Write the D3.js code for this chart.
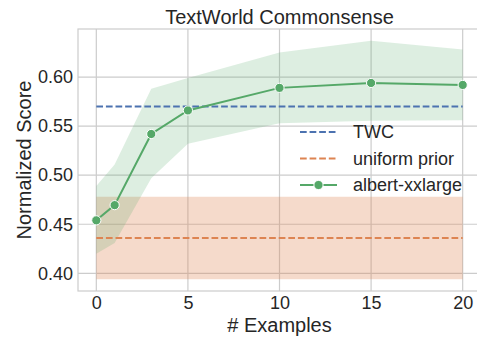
<!DOCTYPE html>
<html>
<head>
<meta charset="utf-8">
<script src="https://cdn.jsdelivr.net/npm/d3@7"></script>
<style>
  html, body { margin: 0; padding: 0; background: #ffffff; }
  svg { display: block; font-family: "Liberation Sans", Arial, sans-serif; }
</style>
</head>
<body>
<div id="chart"></div>
<script>
// Few-shot results on TextWorld Commonsense
const examples = [0, 1, 3, 5, 10, 15, 20];
const albertMean = [0.454, 0.4695, 0.542, 0.566, 0.589, 0.594, 0.592];
const albertLow = [0.420, 0.431, 0.497, 0.532, 0.553, 0.5555, 0.556];
const albertHigh = [0.489, 0.511, 0.588, 0.599, 0.625, 0.637, 0.628];
const twcScore = 0.570;
const uniformPrior = 0.436;
const uniformLow = 0.394;
const uniformHigh = 0.478;
const xTicks = [0, 5, 10, 15, 20];
const yTicks = [0.40, 0.45, 0.50, 0.55, 0.60];
const legendLabels = ["TWC", "uniform prior", "albert-xxlarge"];

const W = 477, H = 338;
const plotLeft = 78, plotRight = 481, plotTop = 29, plotBottom = 291;
const colors = { blue: "#4C72B0", orange: "#DD8452", green: "#55A868" };
const textColor = "#262626", gridColor = "#cccccc";

const svg = d3.select("#chart").append("svg")
  .attr("width", W).attr("height", H);

const x = d3.scaleLinear().domain([-1, 21]).range([plotLeft, plotRight]);
const y = d3.scaleLinear().domain([0.382, 0.649]).range([plotBottom, plotTop]);

// grid
const grid = svg.append("g");
grid.selectAll("line.v").data(xTicks).join("line")
  .attr("x1", d => x(d)).attr("x2", d => x(d))
  .attr("y1", plotTop).attr("y2", plotBottom)
  .attr("stroke", gridColor).attr("stroke-width", 1.2);
grid.selectAll("line.h").data(yTicks).join("line")
  .attr("x1", plotLeft).attr("x2", plotRight)
  .attr("y1", d => y(d)).attr("y2", d => y(d))
  .attr("stroke", gridColor).attr("stroke-width", 1.2);

// spines
svg.append("rect")
  .attr("x", plotLeft).attr("y", plotTop)
  .attr("width", plotRight - plotLeft).attr("height", plotBottom - plotTop)
  .attr("fill", "none").attr("stroke", gridColor).attr("stroke-width", 1.2);

// axes via d3
const xAxis = svg.append("g")
  .attr("transform", `translate(0,${plotBottom})`)
  .call(d3.axisBottom(x).tickValues(xTicks).tickSize(0).tickPadding(5).tickFormat(d3.format("d")));
const yAxis = svg.append("g")
  .attr("transform", `translate(${plotLeft},0)`)
  .call(d3.axisLeft(y).tickValues(yTicks).tickSize(0).tickPadding(5).tickFormat(d3.format(".2f")));
[xAxis, yAxis].forEach(a => {
  a.select(".domain").remove();
  a.selectAll("text").attr("fill", textColor).style("font-size", "18px")
    .style("font-family", "'Liberation Sans', Arial, sans-serif");
});

// uniform prior band
const band = d3.area()
  .x(d => x(d))
  .y0(() => y(uniformLow))
  .y1(() => y(uniformHigh));
svg.append("path").datum([examples[0], examples[examples.length - 1]])
  .attr("d", band).attr("fill", colors.orange).attr("fill-opacity", 0.3);

// albert confidence band
const area = d3.area()
  .x((d, i) => x(examples[i]))
  .y0((d, i) => y(albertLow[i]))
  .y1((d, i) => y(albertHigh[i]));
svg.append("path").datum(examples)
  .attr("d", area).attr("fill", colors.green).attr("fill-opacity", 0.2);

// horizontal reference lines
const xEnds = [examples[0], examples[examples.length - 1]];
svg.append("line")
  .attr("x1", x(xEnds[0])).attr("x2", x(xEnds[1]))
  .attr("y1", y(twcScore)).attr("y2", y(twcScore))
  .attr("stroke", colors.blue).attr("stroke-width", 1.8)
  .attr("stroke-dasharray", "6.7,2.9");
svg.append("line")
  .attr("x1", x(xEnds[0])).attr("x2", x(xEnds[1]))
  .attr("y1", y(uniformPrior)).attr("y2", y(uniformPrior))
  .attr("stroke", colors.orange).attr("stroke-width", 1.8)
  .attr("stroke-dasharray", "6.7,2.9");

// albert-xxlarge line with markers
const line = d3.line()
  .x((d, i) => x(examples[i]))
  .y(d => y(d));
svg.append("path").datum(albertMean)
  .attr("d", line).attr("fill", "none")
  .attr("stroke", colors.green).attr("stroke-width", 2);
svg.selectAll("circle.pt").data(albertMean).join("circle")
  .attr("cx", (d, i) => x(examples[i])).attr("cy", d => y(d))
  .attr("r", 4.6).attr("fill", colors.green)
  .attr("stroke", "#ffffff").attr("stroke-width", 1);

// legend
const lg = svg.append("g");
const rows = [132, 158.5, 185];
const styles = [
  { color: colors.blue, dash: "6.7,2.9", marker: false },
  { color: colors.orange, dash: "6.7,2.9", marker: false },
  { color: colors.green, dash: null, marker: true }
];
legendLabels.forEach((label, i) => {
  const s = styles[i];
  lg.append("line")
    .attr("x1", 300).attr("x2", 337)
    .attr("y1", rows[i]).attr("y2", rows[i])
    .attr("stroke", s.color).attr("stroke-width", s.marker ? 2 : 1.8)
    .attr("stroke-dasharray", s.dash);
  if (s.marker) {
    lg.append("circle").attr("cx", 318.5).attr("cy", rows[i]).attr("r", 4.6)
      .attr("fill", s.color).attr("stroke", "#fff").attr("stroke-width", 1);
  }
  lg.append("text")
    .attr("x", 353).attr("y", rows[i]).attr("dy", "0.35em")
    .attr("fill", textColor).style("font-size", "18px")
    .text(label);
});

// titles
svg.append("text")
  .attr("x", (plotLeft + plotRight) / 2).attr("y", 24)
  .attr("text-anchor", "middle").attr("fill", textColor)
  .style("font-size", "20px").text("TextWorld Commonsense");
svg.append("text")
  .attr("x", (plotLeft + plotRight) / 2).attr("y", 332)
  .attr("text-anchor", "middle").attr("fill", textColor)
  .style("font-size", "20px").text("# Examples");
svg.append("text")
  .attr("transform", `translate(31,${(plotTop + plotBottom) / 2}) rotate(-90)`)
  .attr("text-anchor", "middle").attr("fill", textColor)
  .style("font-size", "20px").text("Normalized Score");
</script>
</body>
</html>
